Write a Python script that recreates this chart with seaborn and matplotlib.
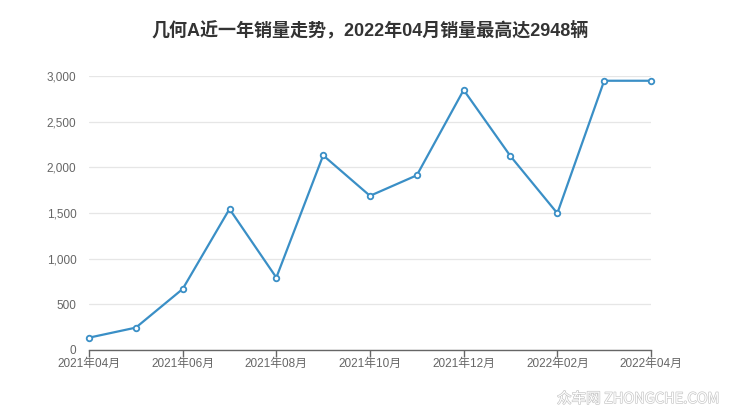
import matplotlib
matplotlib.use("Agg")
import matplotlib.pyplot as plt
import seaborn as sns
import pandas as pd
import matplotlib.patheffects as pe

months = ["2021年04月", "2021年05月", "2021年06月", "2021年07月", "2021年08月",
          "2021年09月", "2021年10月", "2021年11月", "2021年12月", "2022年01月",
          "2022年02月", "2022年03月", "2022年04月"]
sales = [135, 245, 668, 1544, 793, 2131, 1688, 1913, 2847, 2122, 1497, 2948, 2948]
yticks = [0, 500, 1000, 1500, 2000, 2500, 3000]
title = "几何A近一年销量走势，2022年04月销量最高达2948辆"

df = pd.DataFrame({"idx": range(len(months)), "month": months, "sales": sales})

sns.set_theme(style="white")
plt.rcParams["font.family"] = ["Liberation Sans", "Noto Sans CJK SC", "DejaVu Sans"]

fig = plt.figure(figsize=(7.4, 4.17), dpi=100)
ax = fig.add_axes([89 / 740, 1 - 350 / 417, (651 - 89) / 740, (350 - 76) / 417])

color = "#3a8fc6"
sns.lineplot(data=df, x="idx", y="sales", ax=ax, color=color, linewidth=1.6,
             marker="o", markersize=4, markerfacecolor="white",
             markeredgecolor=color, markeredgewidth=1.3, clip_on=False)

ax.set_xlim(0, len(months) - 1)
ax.set_ylim(0, 3000)
ax.set_yticks(yticks)
ax.set_yticklabels([f"{v:,}" for v in yticks])
ax.set_xticks(range(0, len(months), 2))
ax.set_xticklabels(months[::2])
ax.set_xlabel("")
ax.set_ylabel("")

for s in ["top", "right", "left"]:
    ax.spines[s].set_visible(False)
ax.spines["bottom"].set_color("#666666")
ax.spines["bottom"].set_linewidth(1.0)
ax.grid(axis="y", color="#e6e6e6", linewidth=0.9)
ax.grid(axis="x", visible=False)
ax.set_axisbelow(True)

ax.tick_params(axis="x", direction="out", length=5, width=1, color="#666666",
               labelsize=8.5, labelcolor="#666666", pad=0.5, bottom=True)
ax.tick_params(axis="y", length=0, labelsize=8.5, labelcolor="#666666", pad=9)

fig.text(0.5, 1 - 30 / 417, title, ha="center", va="center", fontsize=13,
         fontweight="bold", color="#333333",
         family=["Liberation Sans", "Noto Sans CJK SC", "DejaVu Sans"])

wm = fig.text(720 / 740, 1 - 399 / 417, "众车网 ZHONGCHE.COM", ha="right", va="center",
              fontsize=10.5, color="white",
              family=["Noto Sans CJK SC", "DejaVu Sans"])
wm.set_path_effects([pe.withStroke(linewidth=1.0, foreground="#c8c8c8")])

fig.savefig("out.png", dpi=100)
